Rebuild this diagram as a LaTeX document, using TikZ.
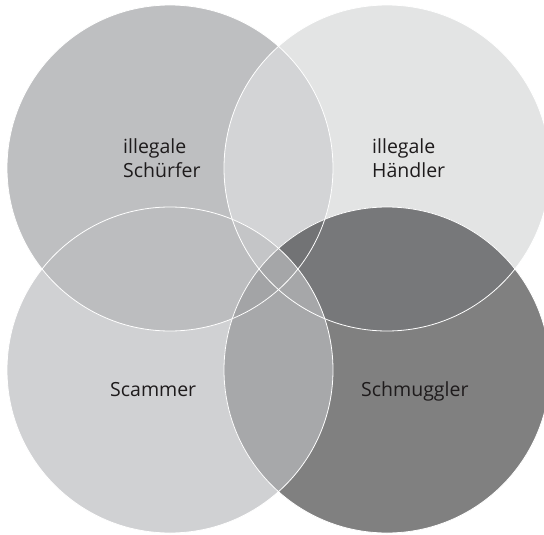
\documentclass[tikz,border=0pt]{standalone}
\usepackage{fontspec}
\setmainfont{Open Sans}
\definecolor{cTL}{RGB}{190,191,193}
\definecolor{cTR}{RGB}{227,228,228}
\definecolor{cBL}{RGB}{208,209,211}
\definecolor{cBR}{RGB}{128,128,128}
\definecolor{cTLTR}{RGB}{211,212,214}
\definecolor{cTLBL}{RGB}{188,189,191}
\definecolor{cTRBR}{RGB}{119,120,122}
\definecolor{cBLBR}{RGB}{167,168,170}
\definecolor{cTLBR}{RGB}{106,107,109}
\definecolor{cTRBL}{RGB}{200,201,203}
\definecolor{cTLTRBL}{RGB}{196,197,199}
\definecolor{cTLTRBR}{RGB}{114,115,117}
\definecolor{cTLBLBR}{RGB}{163,164,166}
\definecolor{cTRBLBR}{RGB}{166,167,169}
\definecolor{cALL}{RGB}{165,166,168}
\definecolor{txt}{RGB}{30,27,28}
\begin{document}
\begin{tikzpicture}[x=1pt,y=-1pt,
  ring/.style={draw=white,line width=0.8pt},
  lbl/.style={text=txt,inner sep=0pt,align=left,font=\fontsize{19.5}{24}\selectfont}]
\useasboundingbox (0,0) rectangle (544,535);
\def\pTL{(170,168) circle[radius=163pt]}
\def\pTR{(387,168) circle[radius=163pt]}
\def\pBL{(170,370) circle[radius=163pt]}
\def\pBR{(387,370) circle[radius=163pt]}
% single circles
\fill[cTL] \pTL;
\fill[cTR] \pTR;
\fill[cBL] \pBL;
\fill[cBR] \pBR;
% pairs
\begin{scope}\clip \pTL; \fill[cTLTR] \pTR; \end{scope}
\begin{scope}\clip \pTL; \fill[cTLBL] \pBL; \end{scope}
\begin{scope}\clip \pTR; \fill[cTRBR] \pBR; \end{scope}
\begin{scope}\clip \pBL; \fill[cBLBR] \pBR; \end{scope}
\begin{scope}\clip \pTL; \fill[cTLBR] \pBR; \end{scope}
\begin{scope}\clip \pTR; \fill[cTRBL] \pBL; \end{scope}
% triples
\begin{scope}\clip \pTL; \clip \pTR; \fill[cTLTRBL] \pBL; \end{scope}
\begin{scope}\clip \pTL; \clip \pTR; \fill[cTLTRBR] \pBR; \end{scope}
\begin{scope}\clip \pTL; \clip \pBL; \fill[cTLBLBR] \pBR; \end{scope}
\begin{scope}\clip \pTR; \clip \pBL; \fill[cTRBLBR] \pBR; \end{scope}
% all four
\begin{scope}\clip \pTL; \clip \pTR; \clip \pBL; \fill[cALL] \pBR; \end{scope}
% outlines
\draw[ring] \pTL;
\draw[ring] \pTR;
\draw[ring] \pBL;
\draw[ring] \pBR;
% labels (base anchor = baseline of last line)
\node[lbl,anchor=base west] (schuerfer) at (123,177) {illegale\\Schürfer};
\node[lbl,anchor=base west] (haendler) at (372,177) {illegale\\Händler};
\node[lbl,anchor=base west] (scammer) at (110,396) {Scammer};
\node[lbl,anchor=base west] (schmuggler) at (361,396) {Schmuggler};
\end{tikzpicture}
\end{document}
